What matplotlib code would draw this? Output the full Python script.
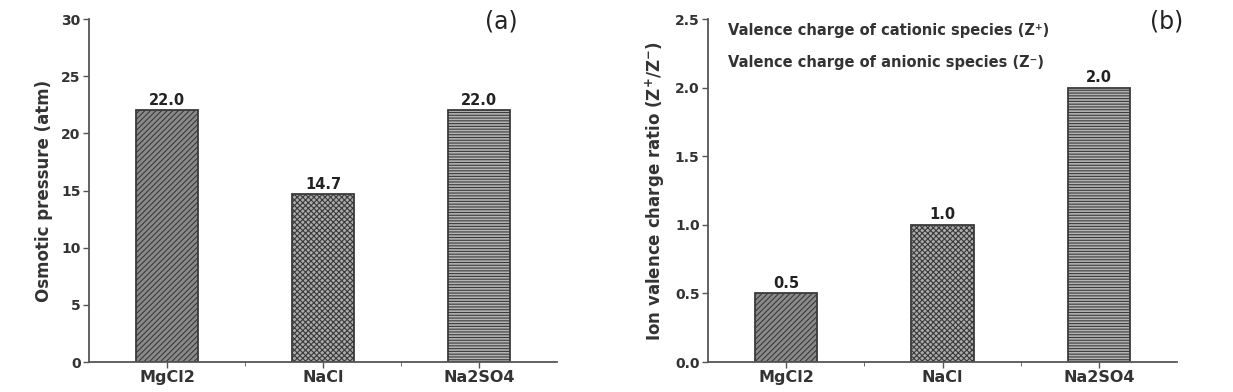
import matplotlib
matplotlib.use("Agg")
import matplotlib.pyplot as plt
from matplotlib.ticker import FixedLocator

plt.rcParams['font.family'] = ['DejaVu Sans']
plt.rcParams['mathtext.default'] = 'bf'
plt.rcParams['hatch.linewidth'] = 0.8

categories = ["MgCl2", "NaCl", "Na2SO4"]
osmotic = [22.0, 14.7, 22.0]
ratio = [0.5, 1.0, 2.0]
value_labels_a = ["22.0", "14.7", "22.0"]
value_labels_b = ["0.5", "1.0", "2.0"]
hatches = ["//////", "xxxxxx", "------"]
faces = ["#8a8a8a", "#ababab", "#b4b4b4"]

fig = plt.figure(figsize=(12.33, 3.92), dpi=100)
axA = fig.add_axes([0.0722, 0.0765, 0.3796, 0.875])
axB = fig.add_axes([0.5742, 0.0765, 0.3804, 0.875])

def draw(ax, vals, labels, ymax, yticks, yfmt, ylabel, offset):
    x = list(range(1, len(categories) + 1))
    for xi, v, h, fc, lab in zip(x, vals, hatches, faces, labels):
        ax.bar(xi, v, width=0.4, color=fc, edgecolor="#3a3a3a", hatch=h, linewidth=1.3)
        ax.text(xi, v + offset, lab, ha="center", va="bottom", fontsize=10.5, fontweight="bold", color="#222222")
    ax.set_xlim(0.5, 3.5)
    ax.set_ylim(0, ymax)
    ax.set_yticks(yticks)
    ax.set_yticklabels([yfmt.format(t) for t in yticks], fontsize=10, fontweight="bold", color="#333333")
    ax.set_xticks(x)
    ax.set_xticklabels(categories, fontsize=11.5, fontweight="bold", color="#333333")
    ax.xaxis.set_minor_locator(FixedLocator([1.5, 2.5]))
    ax.tick_params(axis="x", which="minor", length=3, direction="out", color="#555555")
    ax.tick_params(axis="both", which="major", length=4, direction="out", color="#555555", width=1.0, pad=2)
    for s in ["top", "right"]:
        ax.spines[s].set_visible(False)
    for s in ["left", "bottom"]:
        ax.spines[s].set_color("#555555")
        ax.spines[s].set_linewidth(1.3)
    ax.set_ylabel(ylabel, fontsize=12, fontweight="bold", color="#333333", labelpad=6)

draw(axA, osmotic, value_labels_a, 30, [0, 5, 10, 15, 20, 25, 30], "{:d}",
     "Osmotic pressure (atm)", 0.2)
draw(axB, ratio, value_labels_b, 2.5, [0.0, 0.5, 1.0, 1.5, 2.0, 2.5], "{:.1f}",
     r"Ion valence charge ratio (Z$^{+}$/Z$^{-}$)", 0.02)

fig.text(501 / 1233, 1 - 22 / 392, "(a)", fontsize=17, ha="center", va="center", color="#222222")
fig.text(1167 / 1233, 1 - 22 / 392, "(b)", fontsize=17, ha="center", va="center", color="#222222")

fig.text(728 / 1233, 1 - 30 / 392, "Valence charge of cationic species (Z\u207a)", fontsize=10.5,
         fontweight="bold", ha="left", va="center", color="#333333")
fig.text(728 / 1233, 1 - 62 / 392, "Valence charge of anionic species (Z\u207b)", fontsize=10.5,
         fontweight="bold", ha="left", va="center", color="#333333")

fig.savefig("out.png", dpi=100)
